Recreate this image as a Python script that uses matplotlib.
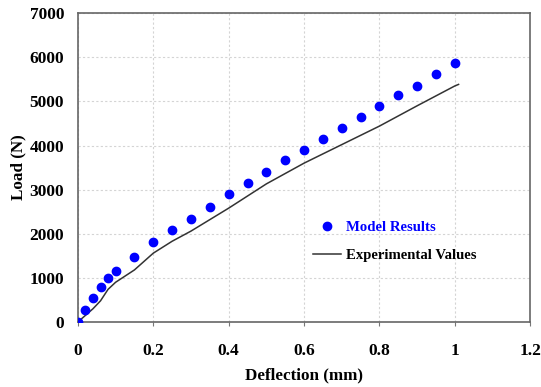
import matplotlib
matplotlib.use("Agg")
import matplotlib.pyplot as plt
import numpy as np

# model results (dots)
model_x = [0, 0.02, 0.04, 0.06, 0.08, 0.1, 0.15, 0.2, 0.25, 0.3, 0.35, 0.4, 0.45,
           0.5, 0.55, 0.6, 0.65, 0.7, 0.75, 0.8, 0.85, 0.9, 0.95, 1.0]
model_y = [0, 272, 545, 790, 1000, 1165, 1467, 1807, 2080, 2342, 2615, 2895, 3150,
           3400, 3667, 3900, 4150, 4400, 4649, 4898, 5147, 5358, 5624, 5873]

# experimental curve
exp_x = [0, 0.02, 0.04, 0.06, 0.08, 0.1, 0.15, 0.2, 0.25, 0.3, 0.4, 0.5, 0.6, 0.7, 0.8, 0.9, 1.0, 1.01]
exp_y = [0, 150, 300, 480, 740, 900, 1180, 1560, 1830, 2060, 2580, 3130, 3600, 4020, 4440, 4900, 5350, 5385]

xticks = [0, 0.2, 0.4, 0.6, 0.8, 1, 1.2]
xtick_labels = ['0', '0.2', '0.4', '0.6', '0.8', '1', '1.2']
yticks = [0, 1000, 2000, 3000, 4000, 5000, 6000, 7000]

plt.rcParams['font.family'] = 'Liberation Serif'
plt.rcParams['font.weight'] = 'bold'

fig = plt.figure(figsize=(5.41, 3.87), dpi=100)
ax = fig.add_axes([0.144, 0.168, 0.836, 0.798])

ax.plot(model_x, model_y, 'o', color='#0000ff', ms=6, mec='#0000ff', label='Model Results', zorder=3)
ax.plot(exp_x, exp_y, '-', color='#333333', lw=1.1, label='Experimental Values', zorder=2)

ax.set_xlim(0, 1.2)
ax.set_ylim(0, 7000)
ax.set_xticks(xticks)
ax.set_xticklabels(xtick_labels)
ax.set_yticks(yticks)
ax.grid(True, color='#d4d4d4', linestyle=(0, (2, 2)), lw=0.8)
ax.tick_params(axis='both', labelsize=12.5, length=3, color='#777777', pad=12)
ax.tick_params(axis='y', length=0, pad=10)
for s in ax.spines.values():
    s.set_color('#666666')
    s.set_linewidth(1.2)

ax.set_xlabel('Deflection (mm)', fontsize=12.3, fontweight='bold', labelpad=6)
ax.set_ylabel('Load (N)', fontsize=12.3, fontweight='bold', labelpad=2)

leg = ax.legend(loc='lower right', bbox_to_anchor=(0.91, 0.15), frameon=False,
                fontsize=10.6, handlelength=1.9, labelspacing=1.0, handletextpad=0.3)
leg.get_texts()[0].set_color('#0000ff')

fig.savefig('out.png', dpi=100)
